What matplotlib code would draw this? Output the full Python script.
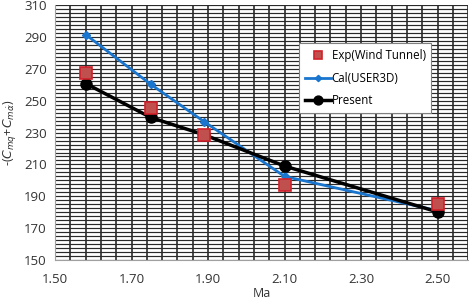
import numpy as np
import matplotlib
matplotlib.use('Agg')
import matplotlib.pyplot as plt

plt.rcParams['font.family'] = ['Open Sans', 'DejaVu Sans']

mach = [1.58, 1.75, 1.89, 2.10, 2.50]
exp_wt = [267.3, 245.5, 228.8, 196.8, 185.2]
cal_user3d = [291.5, 260.3, 236.8, 202.5, 181.0]
present = [260.8, 239.5, 228.6, 209.0, 180.2]

fig = plt.figure(figsize=(4.71, 3.01), dpi=100)
ax = fig.add_axes([0.117, 0.136, 0.877, 0.847])

ax.set_xlim(1.5, 2.58)
ax.set_ylim(150, 310)
ax.set_xticks(np.round(np.arange(1.5, 2.51, 0.2), 2))
ax.set_xticks(np.arange(1.5, 2.581, 0.04), minor=True)
ax.set_yticks(np.arange(150, 311, 20))
ax.set_yticks(np.arange(150, 310.1, 2.5), minor=True)
ax.grid(which='both', axis='x', color='#2a2a2a', lw=1.2)
ax.grid(which='both', axis='y', color='#2a2a2a', lw=0.85)
ax.set_axisbelow(True)
ax.tick_params(which='both', length=0, labelsize=9.5, colors='#333333')
ax.tick_params(axis='x', pad=9)
ax.tick_params(axis='y', pad=6)
ax.xaxis.set_major_formatter(plt.FormatStrFormatter('%.2f'))
for side in ['top', 'right']:
    ax.spines[side].set_visible(False)
for side in ['left', 'bottom']:
    ax.spines[side].set_color('#a0a0a0')

ax.plot(mach, cal_user3d, color='#1a75cf', lw=2, marker='D', ms=4,
        label='Cal(USER3D)', zorder=3)
ax.plot(mach, present, color='black', lw=2.5, marker='o', ms=8,
        label='Present', zorder=4)
ax.plot(mach, exp_wt, ls='none', marker='s', ms=8, mfc='#c0504d',
        mec='#d0202a', mew=1.2, label='Exp(Wind Tunnel)', zorder=5)

h, l = ax.get_legend_handles_labels()
leg = ax.legend([h[2], h[0], h[1]], [l[2], l[0], l[1]],
                loc='upper left', bbox_to_anchor=(0.59, 0.851), fontsize=8.3,
                frameon=True, fancybox=False, framealpha=1, edgecolor='#808080',
                handlelength=2.3, handletextpad=0.05, borderpad=0.5,
                borderaxespad=0, labelspacing=0.85, markerscale=0.8)
leg.get_frame().set_linewidth(0.8)

ax.set_xlabel('Ma', fontsize=9, color='#333333', labelpad=1)
ax.set_ylabel(r'-($C_{mq}$+$C_{m\dot{\alpha}}$)', fontsize=9,
              color='#333333', labelpad=4)

fig.savefig('out.png', dpi=100)
